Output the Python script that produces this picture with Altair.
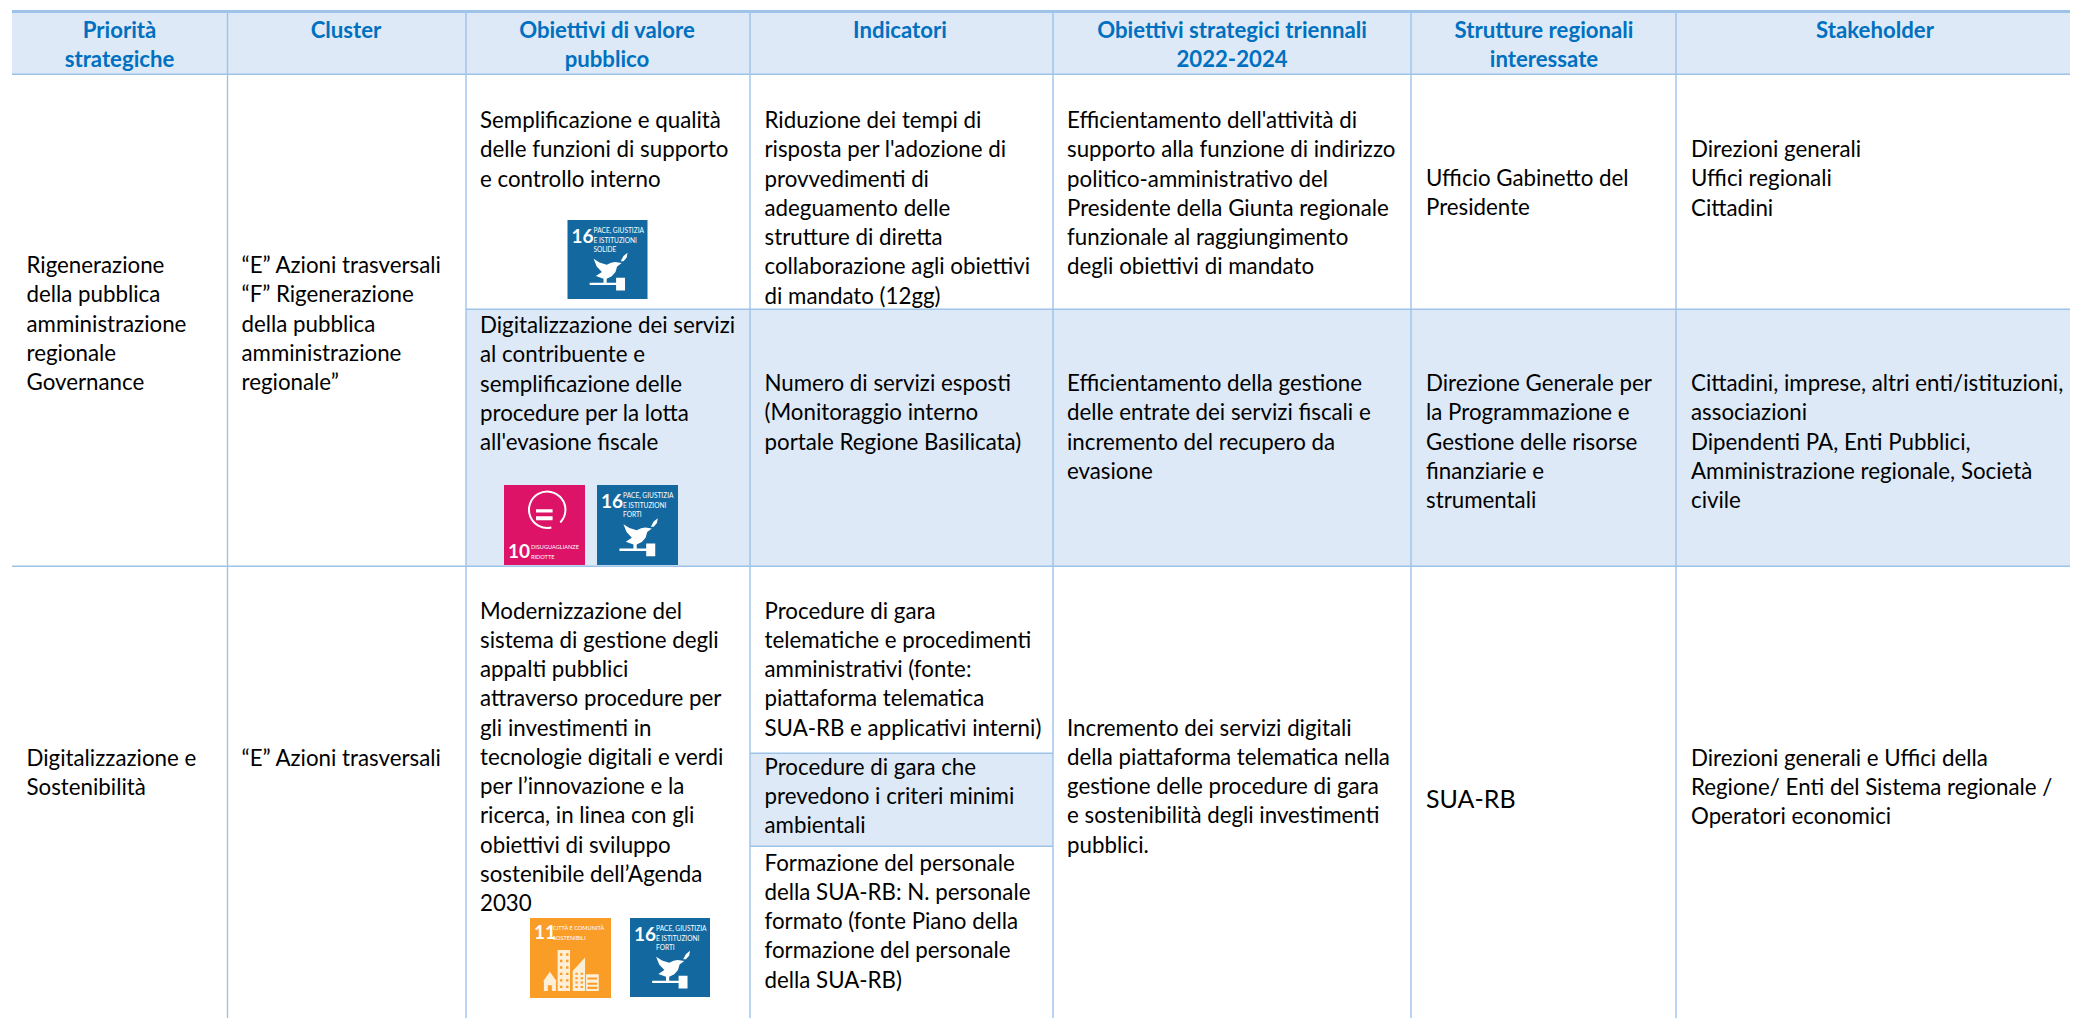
import altair as alt
import pandas as pd

# ---------- table content ----------
HEADERS = [
    ["Priorità", "strategiche"],
    ["Cluster"],
    ["Obiettivi di valore", "pubblico"],
    ["Indicatori"],
    ["Obiettivi strategici triennali", "2022-2024"],
    ["Strutture regionali", "interessate"],
    ["Stakeholder"],
]
PRIORITA_1 = ["Rigenerazione", "della pubblica", "amministrazione", "regionale", "Governance"]
PRIORITA_2 = ["Digitalizzazione e", "Sostenibilità"]
CLUSTER_1 = ["“E” Azioni trasversali", "“F” Rigenerazione", "della pubblica", "amministrazione", "regionale”"]
CLUSTER_2 = ["“E” Azioni trasversali"]
VALORE_1 = ["Semplificazione e qualità", "delle funzioni di supporto", "e controllo interno"]
VALORE_2 = ["Digitalizzazione dei servizi", "al contribuente e", "semplificazione delle",
            "procedure per la lotta", "all'evasione fiscale"]
VALORE_3 = ["Modernizzazione del", "sistema di gestione degli", "appalti pubblici",
            "attraverso procedure per", "gli investimenti in", "tecnologie digitali e verdi",
            "per l’innovazione e la", "ricerca, in linea con gli", "obiettivi di sviluppo",
            "sostenibile dell’Agenda", "2030"]
INDIC_1 = ["Riduzione dei tempi di", "risposta per l'adozione di", "provvedimenti di",
           "adeguamento delle", "strutture di diretta", "collaborazione agli obiettivi",
           "di mandato (12gg)"]
INDIC_2 = ["Numero di servizi esposti", "(Monitoraggio interno", "portale Regione Basilicata)"]
INDIC_3A = ["Procedure di gara", "telematiche e procedimenti", "amministrativi (fonte:",
            "piattaforma telematica", "SUA-RB e applicativi interni)"]
INDIC_3B = ["Procedure di gara che", "prevedono i criteri minimi", "ambientali"]
INDIC_3C = ["Formazione del personale", "della SUA-RB: N. personale", "formato (fonte Piano della",
            "formazione del personale", "della SUA-RB)"]
STRAT_1 = ["Efficientamento dell'attività di", "supporto alla funzione di indirizzo",
           "politico-amministrativo del", "Presidente della Giunta regionale",
           "funzionale al raggiungimento", "degli obiettivi di mandato"]
STRAT_2 = ["Efficientamento della gestione", "delle entrate dei servizi fiscali e",
           "incremento del recupero da", "evasione"]
STRAT_3 = ["Incremento dei servizi digitali", "della piattaforma telematica nella",
           "gestione delle procedure di gara", "e sostenibilità degli investimenti", "pubblici."]
STRUTT_1 = ["Ufficio Gabinetto del", "Presidente"]
STRUTT_2 = ["Direzione Generale per", "la Programmazione e", "Gestione delle risorse",
            "finanziarie e", "strumentali"]
STRUTT_3 = ["SUA-RB"]
STAKE_1 = ["Direzioni generali", "Uffici regionali", "Cittadini"]
STAKE_2 = ["Cittadini, imprese, altri enti/istituzioni,", "associazioni", "Dipendenti PA, Enti Pubblici,",
           "Amministrazione regionale, Società", "civile"]
STAKE_3 = ["Direzioni generali e Uffici della", "Regione/ Enti del Sistema regionale /",
           "Operatori economici"]

# ---------- layout ----------
W, H = 2070, 1018
V_LINES = [227.5, 466, 750, 1053, 1411, 1676]
TEXT_X = [26.5, 241.5, 480, 764.5, 1067, 1426, 1691]
HEAD_X = [119.5, 346, 607, 900, 1232, 1544, 1875]
LINE = 29.25
HEAD_Y = 30.5

CELLS = [
    (0, 266, PRIORITA_1), (1, 266, CLUSTER_1), (2, 121, VALORE_1), (3, 121, INDIC_1),
    (4, 121, STRAT_1), (5, 179, STRUTT_1), (6, 150, STAKE_1),
    (2, 326, VALORE_2), (3, 384, INDIC_2), (4, 384, STRAT_2), (5, 384, STRUTT_2), (6, 384, STAKE_2),
    (0, 758.5, PRIORITA_2), (1, 758.5, CLUSTER_2), (2, 611.5, VALORE_3), (3, 611.5, INDIC_3A),
    (3, 767.5, INDIC_3B), (3, 863.5, INDIC_3C), (4, 728.5, STRAT_3), (6, 758.5, STAKE_3),
]

body_rows = [{"x": TEXT_X[c], "y": y0 + i * LINE, "t": t}
             for c, y0, lines in CELLS for i, t in enumerate(lines)]
head_rows = [{"x": HEAD_X[c], "y": HEAD_Y + i * LINE, "t": t}
             for c, lines in enumerate(HEADERS) for i, t in enumerate(lines)]
sua_rows = [{"x": TEXT_X[5], "y": 800, "t": STRUTT_3[0]}]

X = alt.X("x:Q", scale=alt.Scale(domain=[8, W], nice=False, zero=False), axis=None)
Y = alt.Y("y:Q", scale=alt.Scale(domain=[H, 8], nice=False, zero=False), axis=None)

FILL = "#dde9f6"
LINE_C = "#9dc3e8"
BLUE = "#13699f"
PINK = "#dd1367"
ORANGE = "#f99d26"
CREAM = "#fdeed8"


def boxes(rows, color):
    return alt.Chart(pd.DataFrame(rows)).mark_rect(color=color, stroke=None, clip=True).encode(
        x=X, x2="x2:Q", y=Y, y2="y2:Q")


fills = [
    {"x": 12, "x2": W, "y": 13, "y2": 74},
    {"x": 466, "x2": W, "y": 309, "y2": 566},
    {"x": 750, "x2": 1053, "y": 753, "y2": 846},
]
lines = [{"x": 12, "x2": W, "y": 10, "y2": 13}]
lines += [{"x": 12, "x2": W, "y": 73.5, "y2": 75},
          {"x": 466, "x2": W, "y": 308.5, "y2": 310},
          {"x": 12, "x2": W, "y": 565.5, "y2": 567},
          {"x": 750, "x2": 1053, "y": 752.5, "y2": 754},
          {"x": 750, "x2": 1053, "y": 845.5, "y2": 847}]
lines += [{"x": v - 0.7, "x2": v + 0.7, "y": 13, "y2": H} for v in V_LINES]

ICONS = [
    (567.5, 220, 80, "16", ["PACE, GIUSTIZIA", "E ISTITUZIONI", "SOLIDE"]),
    (504, 485, 81, "10", ["DISUGUAGLIANZE", "RIDOTTE"]),
    (597, 485, 81, "16", ["PACE, GIUSTIZIA", "E ISTITUZIONI", "FORTI"]),
    (530, 918, 81, "11", ["CITTÀ E COMUNITÀ", "SOSTENIBILI"]),
    (630, 918, 80, "16", ["PACE, GIUSTIZIA", "E ISTITUZIONI", "FORTI"]),
]
DOVE = ("M-0.347,-0.03 L-0.2,0.06 L-0.02,0.12 L0.09,0.07 L0.19,0.05 L0.355,0.074 L0.24,0.16 "
        "L0.2,0.3 L0.107,0.405 L-0.02,0.47 L-0.02,0.57 L-0.1,0.57 L-0.1,0.47 "
        "L-0.29,0.4 L-0.14,0.3 L-0.27,0.16 Z "
        "M-0.446,0.57 L0.215,0.57 L0.215,0.628 L-0.446,0.628 Z "
        "M0.215,0.446 L0.438,0.446 L0.438,0.76 L0.215,0.76 Z "
        "M0.33,0.03 L0.4,-0.1 L0.5,-0.18 L0.48,-0.06 L0.4,0.03 Z")
CITY = ("M-0.674,0.562 L-0.508,0.33 L-0.343,0.562 L-0.36,0.562 L-0.36,0.8 L-0.46,0.8 L-0.46,0.66 "
        "L-0.56,0.66 L-0.56,0.8 L-0.657,0.8 L-0.657,0.562 Z "
        "M-0.318,-0.207 L-0.012,-0.207 L-0.012,0.8 L-0.318,0.8 Z "
        "M0.054,0.306 L0.36,-0.025 L0.36,0.8 L0.054,0.8 Z "
        "M0.384,0.388 L0.698,0.388 L0.698,0.8 L0.384,0.8 Z")
WIN = "".join(
    f"M{x},{y} h0.06 v0.06 h-0.06 Z "
    for x in (-0.26, -0.11) for y in (-0.13, 0.03, 0.19, 0.35, 0.51, 0.67)
) + "".join(
    f"M{x},{y} h0.06 v0.05 h-0.06 Z "
    for x in (0.12, 0.25) for y in (0.35, 0.46, 0.57, 0.68)
) + "".join(
    f"M0.42,{y} h0.24 v0.05 h-0.24 Z " for y in (0.47, 0.6, 0.7)
)
RING = "M0.39,-0.075 A0.45,0.45 0 1 0 0.17,0.05"
EQ = "M-0.21,-0.4 L0.2,-0.4 L0.2,-0.32 L-0.21,-0.32 Z M-0.21,-0.23 L0.2,-0.23 L0.2,-0.13 L-0.21,-0.13 Z"

icon_boxes = {BLUE: [], PINK: [], ORANGE: []}
num_rows, cap_rows, cap_small_rows = [], [], []
layers_icon = []


def glyph(path, xc, yc, size, color, filled=True, sw=0):
    df = pd.DataFrame([{"x": xc, "y": yc}])
    kw = dict(shape=path, size=size * size, filled=filled, opacity=1)
    if filled:
        kw.update(fill=color, stroke=None)
    else:
        kw.update(stroke=color, strokeWidth=sw)
    return alt.Chart(df).mark_point(**kw).encode(x=X, y=Y)


for left, top, s, num, cap in ICONS:
    col = {"16": BLUE, "10": PINK, "11": ORANGE}[num]
    icon_boxes[col].append({"x": left, "x2": left + s, "y": top, "y2": top + s - 1})
    xc, yc = left + s / 2, top + s / 2
    if num == "16":
        num_rows.append({"x": left + 4, "y": top + 17, "t": num})
        cap_rows += [{"x": left + 26, "y": top + 11 + 9.5 * i, "t": t} for i, t in enumerate(cap)]
        layers_icon.append(glyph(DOVE, xc, yc, s, "white"))
    elif num == "11":
        num_rows.append({"x": left + 4, "y": top + 15, "t": num})
        cap_small_rows += [{"x": left + 23, "y": top + 10 + 9.5 * i, "t": t} for i, t in enumerate(cap)]
        layers_icon.append(glyph(CITY, xc, yc, s, CREAM))
        layers_icon.append(glyph(WIN, xc, yc, s, ORANGE))
    else:
        num_rows.append({"x": left + 4, "y": top + 67, "t": num})
        cap_small_rows += [{"x": left + 27, "y": top + 62 + 10 * i, "t": t} for i, t in enumerate(cap)]
        layers_icon.append(glyph(RING, xc, yc, s, "white", filled=False, sw=2))
        layers_icon.append(glyph(EQ, xc, yc, s, "white"))


def text_layer(rows, **kw):
    return alt.Chart(pd.DataFrame(rows)).mark_text(baseline="middle", **kw).encode(x=X, y=Y, text="t:N")


FONT = "Lato"
chart = alt.layer(
    boxes(fills, FILL),
    *[boxes(r, c) for c, r in icon_boxes.items()],
    *layers_icon,
    text_layer(num_rows, align="left", font=FONT, fontWeight="bold", fontSize=19, color="white"),
    text_layer(cap_rows, align="left", font=FONT, fontSize=6.6, color="white"),
    text_layer(cap_small_rows, align="left", font=FONT, fontSize=5.6, color="white"),
    boxes(lines, LINE_C),
    text_layer(body_rows, align="left", font=FONT, fontSize=22.3, color="#000000"),
    text_layer(head_rows, align="center", font=FONT, fontWeight="bold", fontSize=22.2, color="#0070c0"),
    text_layer(sua_rows, align="left", font=FONT, fontSize=25, color="#000000"),
).properties(
    width=W - 8, height=H - 8, padding=0, autosize=alt.AutoSizeParams(type="none"),
    background="white",
).configure_view(stroke=None)

chart.save("out.html", embed_options={"renderer": "svg", "actions": False})
